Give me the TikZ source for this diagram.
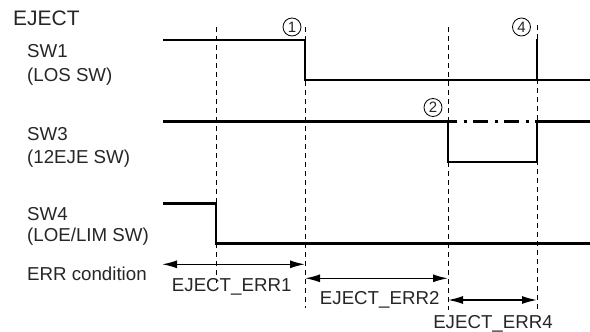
\documentclass[tikz,border=0pt]{standalone}
\usepackage{fontspec}
\setmainfont{Liberation Sans}
\usetikzlibrary{arrows.meta}
\begin{document}
\begin{tikzpicture}[x=1pt,y=-1pt,
  signal/.style={line width=2.6pt, line join=miter, line cap=butt},
  guide/.style={line width=0.9pt, dash pattern=on 5pt off 4pt},
  span/.style={line width=1.5pt, {Latex[length=15pt,width=8pt]}-{Latex[length=15pt,width=8pt]}},
  lbl/.style={inner sep=0pt, anchor=base west, text=black!85, font=\fontsize{18.7}{22}\selectfont},
  tag/.style={inner sep=0pt, anchor=base, text=black!85, font=\fontsize{18.7}{22}\selectfont},
  mark circle/.style={circle, draw, line width=0.8pt, minimum size=18pt, inner sep=0pt, text=black!85, font=\fontsize{15}{15}\selectfont}]
\useasboundingbox (0,0) rectangle (590,332);

% signal names
\node[lbl, font=\fontsize{21}{24}\selectfont] (eject) at (13,26) {EJECT};
\node[lbl] (sw1) at (27,57) {SW1};
\node[lbl] (sw1n) at (27,81) {(LOS SW)};
\node[lbl] (sw3) at (27,140) {SW3};
\node[lbl] (sw3n) at (27,163.5) {(12EJE SW)};
\node[lbl] (sw4) at (27,220) {SW4};
\node[lbl] (sw4n) at (27,241.5) {(LOE/LIM SW)};
\node[lbl] (errc) at (27,280.5) {ERR condition};

% timing guides
\coordinate (g1t) at (216,27);  \coordinate (g1b) at (216,283);
\coordinate (g2t) at (305,27);  \coordinate (g2b) at (305,308);
\coordinate (g3t) at (448,27);  \coordinate (g3b) at (448,310);
\coordinate (g4t) at (537,25);  \coordinate (g4b) at (537,310);
\draw[guide] (g1t) -- (g1b);
\draw[guide] (g2t) -- (g2b);
\draw[guide] (g3t) -- (g3b);
\draw[guide] (g4t) -- (g4b);

% event marks
\node[mark circle] (m1) at (292,27) {1};
\node[mark circle] (m2) at (433,107.5) {2};
\node[mark circle] (m4) at (521.5,27) {4};

% SW1
\coordinate (a0) at (163,40);
\coordinate (a1) at (305,40);
\coordinate (a2) at (305,80);
\coordinate (a3) at (590,80);
\coordinate (a4) at (537,39);
\coordinate (a5) at (537,80);
\draw[signal] (a0) -- (a1) -- (a2) -- (a3);
\draw[signal] (a4) -- (a5);

% SW3
\coordinate (b0) at (163,121.7);
\coordinate (b1) at (448,121.7);
\coordinate (b2) at (448,162);
\coordinate (b3) at (537,162);
\coordinate (b4) at (537,121.7);
\coordinate (b5) at (590,121.7);
\draw[signal] (b0) -- (b1) -- (b2) -- (b3) -- (b4) -- (b5);
\draw[line width=2.6pt, dash pattern=on 15pt off 6.5pt on 3pt off 6.5pt, dash phase=6pt] (b1) -- (b4);

% SW4
\coordinate (c0) at (163,203.3);
\coordinate (c1) at (216,203.3);
\coordinate (c2) at (216,243.3);
\coordinate (c3) at (590,243.3);
\draw[signal] (c0) -- (c1) -- (c2) -- (c3);

% error windows
\coordinate (e1a) at (162,264.3); \coordinate (e1b) at (305,264.3);
\coordinate (e2a) at (305,278.3); \coordinate (e2b) at (448,278.3);
\coordinate (e4a) at (448,300);   \coordinate (e4b) at (537,300);
\draw[span] (e1a) -- (e1b);
\draw[span] (e2a) -- (e2b);
\draw[span] (e4a) -- (e4b);
\node[tag] (err1) at (231.7,291.7) {EJECT\_ERR1};
\node[tag] (err2) at (379.7,304) {EJECT\_ERR2};
\node[tag] (err4) at (493,328.3) {EJECT\_ERR4};
\end{tikzpicture}
\end{document}
